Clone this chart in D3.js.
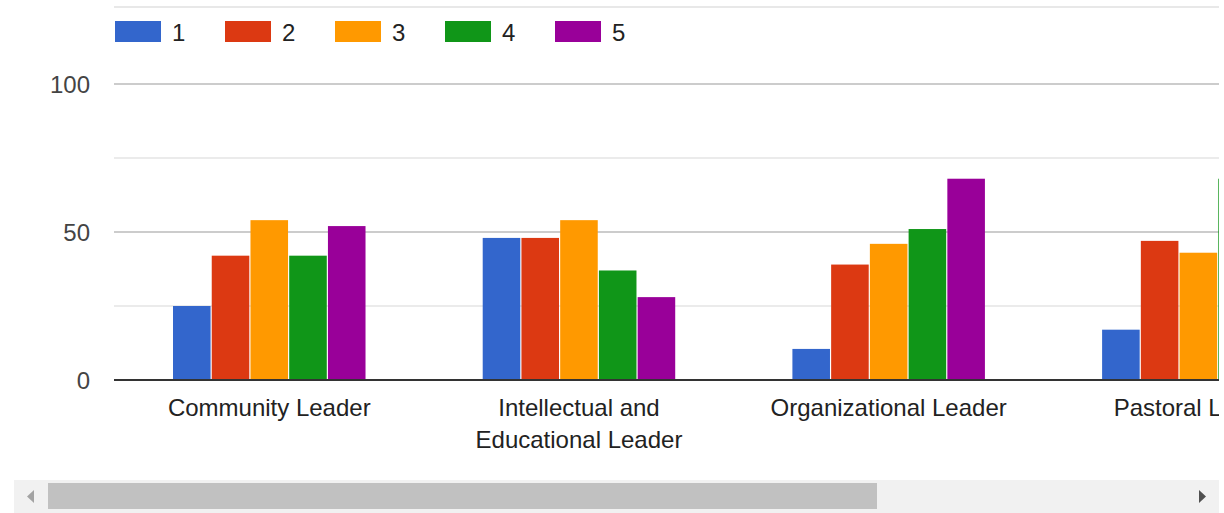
<!DOCTYPE html>
<html><head><meta charset="utf-8">
<script src="https://cdn.jsdelivr.net/npm/d3@7"></script>
<style>
body{margin:0;background:#fff;}
svg{display:block;font-family:Arial,"Liberation Sans",sans-serif;}
</style>
</head><body>
<svg id="c" width="1224" height="513"></svg>
<script>
const categories = ["Community Leader", "Intellectual and Educational Leader", "Organizational Leader", "Pastoral Leader"];
const categoryLines = [["Community Leader"], ["Intellectual and", "Educational Leader"], ["Organizational Leader"], ["Pastoral Leader"]];
const seriesNames = ["1", "2", "3", "4", "5"];
const series1 = [25, 48, 10.5, 17];
const series2 = [42, 48, 39, 47];
const series3 = [54, 54, 46, 43];
const series4 = [42, 37, 51, 68];
const series5 = [52, 28, 68, null];
const yTicks = [0, 50, 100];
const yMinorTicks = [25, 75];
const seriesColors = ["#3366cc", "#dc3912", "#ff9900", "#109618", "#990099"];

const allSeries = [series1, series2, series3, series4, series5];
const svg = d3.select("#c");

const clipRight = 1219;
const step = 309.7, pIn = 0.3784, pOut = 0.1873;
const x = d3.scaleBand().domain(categories)
  .range([115, 115 + step * (categories.length - pIn + 2 * pOut)])
  .paddingInner(pIn).paddingOuter(pOut);
const xs = d3.scaleBand().domain(seriesNames).range([0, x.bandwidth()]).paddingInner(0.03);
const y = d3.scaleLinear().domain([0, 100]).range([380, 84]);

svg.append("defs").append("clipPath").attr("id", "plotclip")
  .append("rect").attr("x", 0).attr("y", 0).attr("width", clipRight).attr("height", 470);

// top rule
svg.append("rect").attr("x", 114).attr("y", 6).attr("width", clipRight - 114).attr("height", 2).attr("fill", "#e8e8e8");

// legend
const leg = svg.append("g");
seriesNames.forEach((s, i) => {
  const lx = 115 + i * 110;
  leg.append("rect").attr("x", lx).attr("y", 21).attr("width", 46).attr("height", 21).attr("fill", seriesColors[i]);
  leg.append("text").attr("x", lx + 57).attr("y", 40.5).attr("font-size", 24).attr("fill", "#222").text(s);
});

const plot = svg.append("g").attr("clip-path", "url(#plotclip)");

// minor gridlines
plot.selectAll("line.minor").data(yMinorTicks).join("line")
  .attr("x1", 114).attr("x2", clipRight).attr("y1", d => y(d)).attr("y2", d => y(d))
  .attr("stroke", "#ebebeb").attr("stroke-width", 2);
// major gridlines
plot.selectAll("line.major").data(yTicks.filter(d => d !== 0)).join("line")
  .attr("x1", 114).attr("x2", clipRight).attr("y1", d => y(d)).attr("y2", d => y(d))
  .attr("stroke", "#cccccc").attr("stroke-width", 2);

// y tick labels
const yAxis = d3.axisLeft(y).tickValues(yTicks).tickSize(0).tickPadding(0);
const ya = svg.append("g").attr("transform", "translate(90,0)").call(yAxis);
ya.select(".domain").remove();
ya.selectAll("text").attr("font-size", 24).attr("fill", "#444").attr("font-family", "Arial, 'Liberation Sans', sans-serif").attr("dy", "0.34em");

// bars
categories.forEach((c, ci) => {
  allSeries.forEach((ser, si) => {
    const v = ser[ci];
    if (v == null) return;
    plot.append("rect")
      .attr("x", x(c) + xs(seriesNames[si]))
      .attr("width", xs.bandwidth())
      .attr("y", y(v))
      .attr("height", y(0) - y(v))
      .attr("fill", seriesColors[si]);
  });
});

// baseline
plot.append("line").attr("x1", 114).attr("x2", clipRight).attr("y1", y(0)).attr("y2", y(0))
  .attr("stroke", "#333").attr("stroke-width", 2);

// category labels (the chart is wider than the visible area, as in the reference)
categories.forEach((c, ci) => {
  const cx = x(c) + x.bandwidth() / 2;
  const t = plot.append("text").attr("text-anchor", "middle").attr("font-size", 24).attr("fill", "#222");
  categoryLines[ci].forEach((ln, li) => {
    t.append("tspan").attr("x", cx).attr("y", 416 + li * 32).text(ln);
  });
});

// scrollbar
svg.append("rect").attr("x", 14).attr("y", 480).attr("width", 1205).attr("height", 33).attr("fill", "#f1f1f1");
svg.append("rect").attr("x", 48).attr("y", 483).attr("width", 829).attr("height", 26).attr("fill", "#c1c1c1");
svg.append("path").attr("d", "M34,490 L34,503 L27,496.5 Z").attr("fill", "#a3a3a3");
svg.append("path").attr("d", "M1199,490 L1199,503 L1206,496.5 Z").attr("fill", "#505050");
</script>
</body></html>
